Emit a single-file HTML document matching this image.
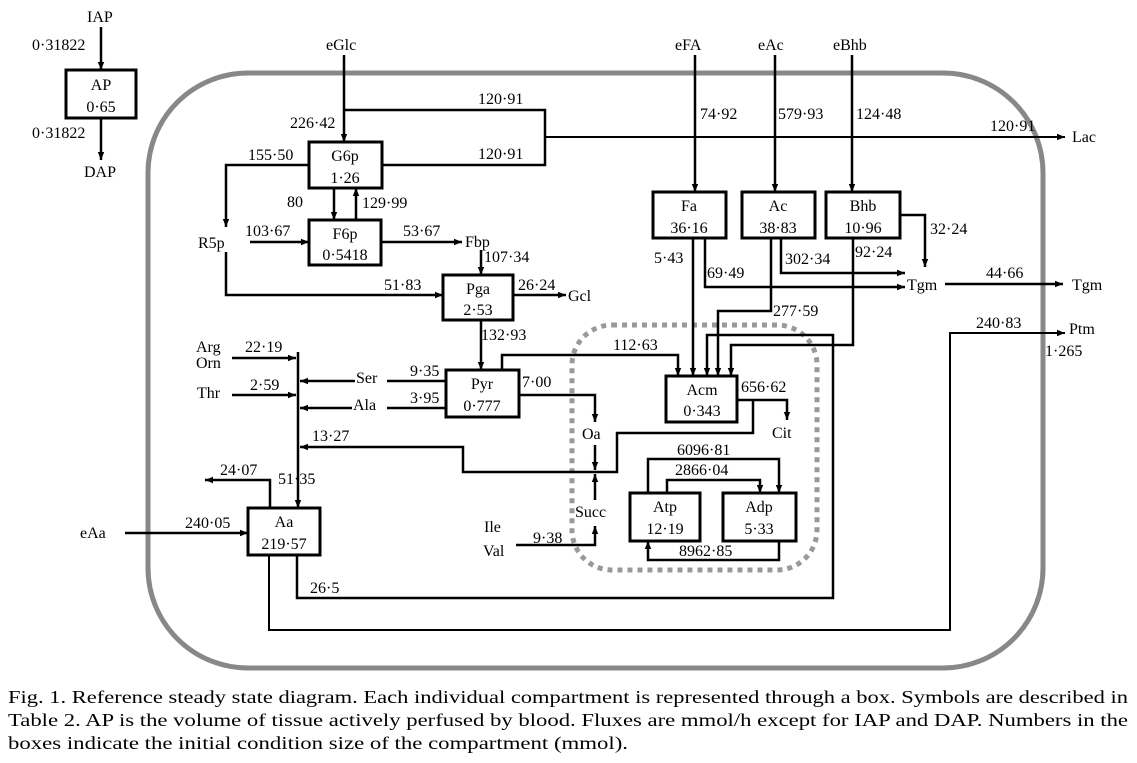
<!DOCTYPE html>
<html><head><meta charset="utf-8"><style>
html,body{margin:0;padding:0;background:#fff;}
svg{display:block;}
svg text{font-family:"Liberation Serif","Times New Roman",serif;font-size:16px;fill:#000;}
</style></head><body>
<svg width="1137" height="763" viewBox="0 0 1137 763" xmlns="http://www.w3.org/2000/svg" font-family="Liberation Serif, serif">
<defs>
<marker id="a" viewBox="0 0 10 10" refX="10" refY="5" markerWidth="8" markerHeight="8" markerUnits="userSpaceOnUse" orient="auto"><path d="M0,1 L10,5 L0,9 z" fill="#000"/></marker>
</defs>
<rect x="148" y="73" width="895" height="595" rx="100" ry="100" fill="none" stroke="#888" stroke-width="5"/>
<rect x="572" y="325" width="245" height="245" rx="40" ry="40" fill="none" stroke="#999" stroke-width="5" stroke-dasharray="5,5"/>

<g fill="none" stroke="#000" stroke-width="2.5">
<line x1="101" y1="27" x2="101" y2="70" marker-end="url(#a)"/>
<line x1="101" y1="118" x2="101" y2="160" marker-end="url(#a)"/>
<line x1="344" y1="55" x2="344" y2="142" marker-end="url(#a)"/>
<polyline points="344,110 545,110 545,165 382,165"/>
<line x1="545" y1="137" x2="1065" y2="137" stroke-width="2" marker-end="url(#a)"/>
<polyline points="309,165 226,165 226,227" marker-end="url(#a)"/>
<line x1="334" y1="188" x2="334" y2="220" marker-end="url(#a)"/>
<line x1="356" y1="220" x2="356" y2="188" marker-end="url(#a)"/>
<line x1="250" y1="242" x2="309" y2="242" marker-end="url(#a)"/>
<line x1="381" y1="242" x2="462" y2="242" marker-end="url(#a)"/>
<line x1="481" y1="250" x2="481" y2="275" marker-end="url(#a)"/>
<polyline points="226,252 226,295 443,295" marker-end="url(#a)"/>
<line x1="513" y1="295" x2="566" y2="295" marker-end="url(#a)"/>
<line x1="481" y1="320" x2="481" y2="370" marker-end="url(#a)"/>
<line x1="232" y1="358" x2="296" y2="358" marker-end="url(#a)"/>
<line x1="232" y1="395" x2="296" y2="395" marker-end="url(#a)"/>
<line x1="298" y1="352" x2="298" y2="508" marker-end="url(#a)"/>
<line x1="355" y1="381" x2="300" y2="381" marker-end="url(#a)"/>
<line x1="387" y1="381" x2="446" y2="381"/>
<line x1="352" y1="408" x2="300" y2="408" marker-end="url(#a)"/>
<line x1="387" y1="408" x2="446" y2="408"/>
<polyline points="502,370 502,355 678,355 678,376" marker-end="url(#a)"/>
<polyline points="519,395 595,395 595,422" marker-end="url(#a)"/>
<polyline points="737,400 787,400 787,420" marker-end="url(#a)"/>
<polyline points="753,400 753,433 617,433 617,472 463,472 463,447 300,447" marker-end="url(#a)"/>
<line x1="595" y1="445" x2="595" y2="470" marker-end="url(#a)"/>
<line x1="595" y1="500" x2="595" y2="474" marker-end="url(#a)"/>
<polyline points="516,545 595,545 595,526" marker-end="url(#a)"/>
<polyline points="648,493 648,459 779,459 779,493" marker-end="url(#a)"/>
<polyline points="667,493 667,480 760,480 760,493" marker-end="url(#a)"/>
<polyline points="779,541 779,560 648,560 648,541" marker-end="url(#a)"/>
<polyline points="270,508 270,480 205,480" marker-end="url(#a)"/>
<line x1="125" y1="533" x2="248" y2="533" marker-end="url(#a)"/>
<polyline points="297,555 297,598 833,598 833,335 707,335 707,376" marker-end="url(#a)"/>
<polyline points="269,555 269,630 950,630 950,333 1065,333" stroke-width="2" marker-end="url(#a)"/>
<line x1="695" y1="55" x2="695" y2="192" marker-end="url(#a)"/>
<line x1="775" y1="55" x2="775" y2="192" marker-end="url(#a)"/>
<line x1="852" y1="55" x2="852" y2="192" marker-end="url(#a)"/>
<line x1="693" y1="238" x2="693" y2="376" marker-end="url(#a)"/>
<polyline points="705,238 705,287 905,287" marker-end="url(#a)"/>
<polyline points="771,238 771,311 718,311 718,376" marker-end="url(#a)"/>
<polyline points="781,238 781,273 905,273" marker-end="url(#a)"/>
<polyline points="853,238 853,345 731,345 731,376" marker-end="url(#a)"/>
<polyline points="900,215 925,215 925,267" marker-end="url(#a)"/>
<line x1="945" y1="284" x2="1063" y2="284" marker-end="url(#a)"/>
</g>
<g fill="#fff" stroke="#000" stroke-width="3">
<rect x="66" y="70" width="70" height="48"/>
<rect x="309" y="142" width="73" height="46"/>
<rect x="309" y="220" width="72" height="45"/>
<rect x="443" y="275" width="70" height="45"/>
<rect x="446" y="370" width="73" height="47"/>
<rect x="666" y="376" width="71" height="46"/>
<rect x="630" y="493" width="70" height="48"/>
<rect x="723" y="493" width="73" height="48"/>
<rect x="248" y="508" width="72" height="47"/>
<rect x="653" y="192" width="73" height="46"/>
<rect x="742" y="192" width="73" height="46"/>
<rect x="826" y="192" width="74" height="46"/>
</g>
<g text-anchor="middle">
<text x="101" y="90">AP</text><text x="101" y="112">0·65</text>
<text x="345" y="161">G6p</text><text x="345" y="183">1·26</text>
<text x="345" y="239">F6p</text><text x="345" y="260">0·5418</text>
<text x="478" y="294">Pga</text><text x="478" y="315">2·53</text>
<text x="482" y="389">Pyr</text><text x="482" y="411">0·777</text>
<text x="702" y="395">Acm</text><text x="702" y="416">0·343</text>
<text x="665" y="512">Atp</text><text x="665" y="534">12·19</text>
<text x="759" y="512">Adp</text><text x="759" y="534">5·33</text>
<text x="284" y="527">Aa</text><text x="284" y="549">219·57</text>
<text x="689" y="211">Fa</text><text x="689" y="233">36·16</text>
<text x="778" y="211">Ac</text><text x="778" y="233">38·83</text>
<text x="863" y="211">Bhb</text><text x="863" y="233">10·96</text>
</g>
<text x="87" y="22">IAP</text>
<text x="32" y="50">0·31822</text>
<text x="32" y="138">0·31822</text>
<text x="84" y="177">DAP</text>
<text x="326" y="50">eGlc</text>
<text x="290" y="128">226·42</text>
<text x="478" y="104">120·91</text>
<text x="478" y="159">120·91</text>
<text x="990" y="131">120·91</text>
<text x="1072" y="142">Lac</text>
<text x="248" y="160">155·50</text>
<text x="287" y="207">80</text>
<text x="362" y="208">129·99</text>
<text x="198" y="248">R5p</text>
<text x="245" y="236">103·67</text>
<text x="403" y="236">53·67</text>
<text x="465" y="247">Fbp</text>
<text x="484" y="262">107·34</text>
<text x="384" y="290">51·83</text>
<text x="518" y="290">26·24</text>
<text x="568" y="301">Gcl</text>
<text x="481" y="340">132·93</text>
<text x="196" y="352">Arg</text><text x="196" y="368">Orn</text>
<text x="245" y="352">22·19</text>
<text x="197" y="398">Thr</text>
<text x="250" y="390">2·59</text>
<text x="356" y="383">Ser</text>
<text x="353" y="410">Ala</text>
<text x="410" y="376">9·35</text>
<text x="410" y="403">3·95</text>
<text x="312" y="441">13·27</text>
<text x="220" y="475">24·07</text>
<text x="278" y="484">51·35</text>
<text x="185" y="528">240·05</text>
<text x="80" y="538">eAa</text>
<text x="310" y="593">26·5</text>
<text x="613" y="350">112·63</text>
<text x="522" y="387">7·00</text>
<text x="582" y="439">Oa</text>
<text x="741" y="392">656·62</text>
<text x="772" y="438">Cit</text>
<text x="677" y="455">6096·81</text>
<text x="675" y="475">2866·04</text>
<text x="679" y="556">8962·85</text>
<text x="575" y="517">Succ</text>
<text x="484" y="532">Ile</text><text x="483" y="556">Val</text>
<text x="533" y="543">9·38</text>
<text x="675" y="50">eFA</text>
<text x="758" y="50">eAc</text>
<text x="833" y="50">eBhb</text>
<text x="700" y="119">74·92</text>
<text x="778" y="119">579·93</text>
<text x="856" y="119">124·48</text>
<text x="654" y="263">5·43</text>
<text x="707" y="278">69·49</text>
<text x="785" y="264">302·34</text>
<text x="855" y="257">92·24</text>
<text x="773" y="316">277·59</text>
<text x="930" y="234">32·24</text>
<text x="907" y="290">Tgm</text>
<text x="986" y="278">44·66</text>
<text x="1072" y="290">Tgm</text>
<text x="976" y="328">240·83</text>
<text x="1069" y="334">Ptm</text>
<text x="1045" y="356">1·265</text>
<text x="8" y="703" style="font-size:18px" textLength="1120" lengthAdjust="spacingAndGlyphs">Fig. 1. Reference steady state diagram. Each individual compartment is represented through a box. Symbols are described in</text>
<text x="8" y="726" style="font-size:18px" textLength="1120" lengthAdjust="spacingAndGlyphs">Table 2. AP is the volume of tissue actively perfused by blood. Fluxes are mmol/h except for IAP and DAP. Numbers in the</text>
<text x="8" y="749" style="font-size:18px" textLength="620" lengthAdjust="spacingAndGlyphs">boxes indicate the initial condition size of the compartment (mmol).</text>
</svg>
</body></html>
